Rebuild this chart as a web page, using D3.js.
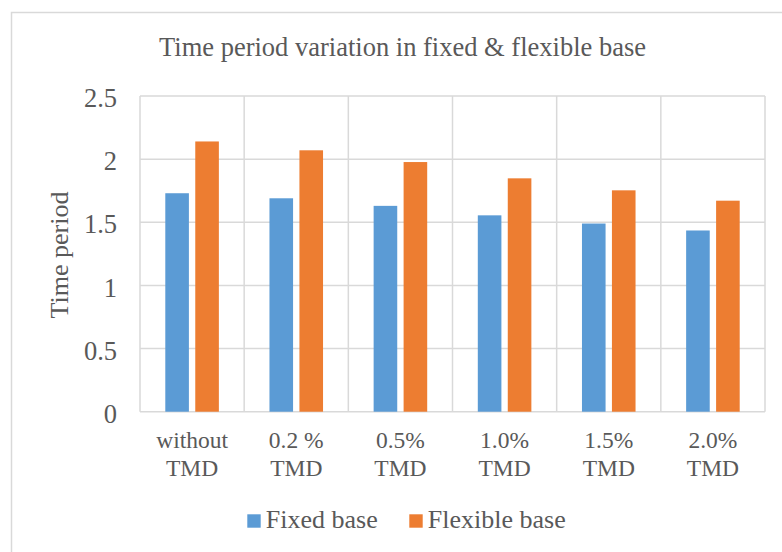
<!DOCTYPE html>
<html>
<head>
<meta charset="utf-8">
<script src="https://cdn.jsdelivr.net/npm/d3@7"></script>
<style>
  body { margin: 0; background: #fff; }
  svg text { font-family: "Liberation Serif", "Times New Roman", serif; fill: #595959; }
</style>
</head>
<body>
<div id="chart"></div>
<script>
// data
var categories = ["without TMD", "0.2 % TMD", "0.5% TMD", "1.0% TMD", "1.5% TMD", "2.0% TMD"]
var seriesNames = ["Fixed base", "Flexible base"]
var fixedBase = [1.73, 1.69, 1.63, 1.555, 1.49, 1.435]
var flexibleBase = [2.14, 2.07, 1.977, 1.848, 1.753, 1.671]
var yTicks = [0, 0.5, 1, 1.5, 2, 2.5]
var colors = ["#5b9bd5", "#ed7d31"]

var W = 782, H = 552
var margin = { top: 96, right: 17, bottom: 140.3, left: 140 },
    width = W - margin.left - margin.right,
    height = H - margin.top - margin.bottom

var svg = d3.select("#chart")
  .append("svg")
  .attr("width", W)
  .attr("height", H)

// outer chart frame (right and bottom run off the page)
svg.append("rect")
  .attr("x", 11.5).attr("y", 12.5)
  .attr("width", W + 20).attr("height", H + 20)
  .attr("fill", "none")
  .attr("stroke", "#d9d9d9")
  .attr("stroke-width", 1.5)

svg.append("text")
  .attr("x", 402.5).attr("y", 56)
  .attr("text-anchor", "middle")
  .style("font-size", "26.5px")
  .text("Time period variation in fixed & flexible base")

var g = svg.append("g")
  .attr("transform", "translate(" + margin.left + "," + margin.top + ")")

var x = d3.scaleBand()
  .domain(categories)
  .range([0, width])

var x1 = d3.scaleBand()
  .domain(seriesNames)
  .range([25.3, x.bandwidth() - 25.3])
  .paddingInner(0.2125)

var y = d3.scaleLinear()
  .domain([0, 2.5])
  .range([height, 0])

// horizontal grid
g.append("g")
  .selectAll("line")
  .data(yTicks)
  .enter().append("line")
  .attr("x1", 0).attr("x2", width)
  .attr("y1", function(d) { return y(d) })
  .attr("y2", function(d) { return y(d) })
  .attr("stroke", "#d9d9d9")
  .attr("stroke-width", 1.5)

// vertical grid
g.append("g")
  .selectAll("line")
  .data(d3.range(categories.length + 1))
  .enter().append("line")
  .attr("x1", function(i) { return i * x.step() })
  .attr("x2", function(i) { return i * x.step() })
  .attr("y1", 0).attr("y2", height)
  .attr("stroke", "#d9d9d9")
  .attr("stroke-width", 1.5)

// y axis labels
var yAxis = g.append("g")
  .call(d3.axisLeft(y).tickValues(yTicks).tickFormat(d3.format("")).tickSize(0).tickPadding(23))
yAxis.select(".domain").remove()
yAxis.selectAll("text")
  .attr("fill", "#595959")
  .attr("dy", "0.4em")
  .style("font-size", "26.5px")

g.append("text")
  .attr("transform", "translate(-72," + (255 - margin.top) + ") rotate(-90)")
  .attr("text-anchor", "middle")
  .style("font-size", "26px")
  .text("Time period")

// bars
var rows = categories.map(function(c, i) {
  return { cat: c, vals: [fixedBase[i], flexibleBase[i]] }
})

var groups = g.selectAll(".grp")
  .data(rows)
  .enter().append("g")
  .attr("transform", function(d) { return "translate(" + x(d.cat) + ",0)" })

groups.selectAll("rect")
  .data(function(d) { return d.vals.map(function(v, j) { return { s: seriesNames[j], v: v, j: j } }) })
  .enter().append("rect")
  .attr("x", function(d) { return x1(d.s) })
  .attr("y", function(d) { return y(d.v) })
  .attr("width", x1.bandwidth())
  .attr("height", function(d) { return height - y(d.v) })
  .attr("fill", function(d) { return colors[d.j] })

// x labels (two lines)
g.selectAll(".xl")
  .data(categories)
  .enter().append("text")
  .attr("text-anchor", "middle")
  .style("font-size", "23.5px")
  .attr("transform", function(d) { return "translate(" + (x(d) + x.bandwidth() / 2) + "," + (448 - margin.top) + ")" })
  .each(function(d) {
    var parts = d.split(" ")
    var last = parts.pop()
    var t = d3.select(this)
    t.append("tspan").attr("x", 0).attr("y", 0).text(parts.join(" "))
    t.append("tspan").attr("x", 0).attr("y", 28).text(last)
  })

// legend
var legendX = [247.3, 409.3]
var leg = svg.append("g")
  .selectAll("g")
  .data(seriesNames)
  .enter().append("g")
  .attr("transform", function(d, i) { return "translate(" + legendX[i] + ",514.3)" })
leg.append("rect")
  .attr("width", 13.4).attr("height", 13.4)
  .attr("fill", function(d, i) { return colors[i] })
leg.append("text")
  .attr("x", 18.5).attr("y", 13.7)
  .style("font-size", "26px")
  .text(function(d) { return d })
</script>
</body>
</html>
